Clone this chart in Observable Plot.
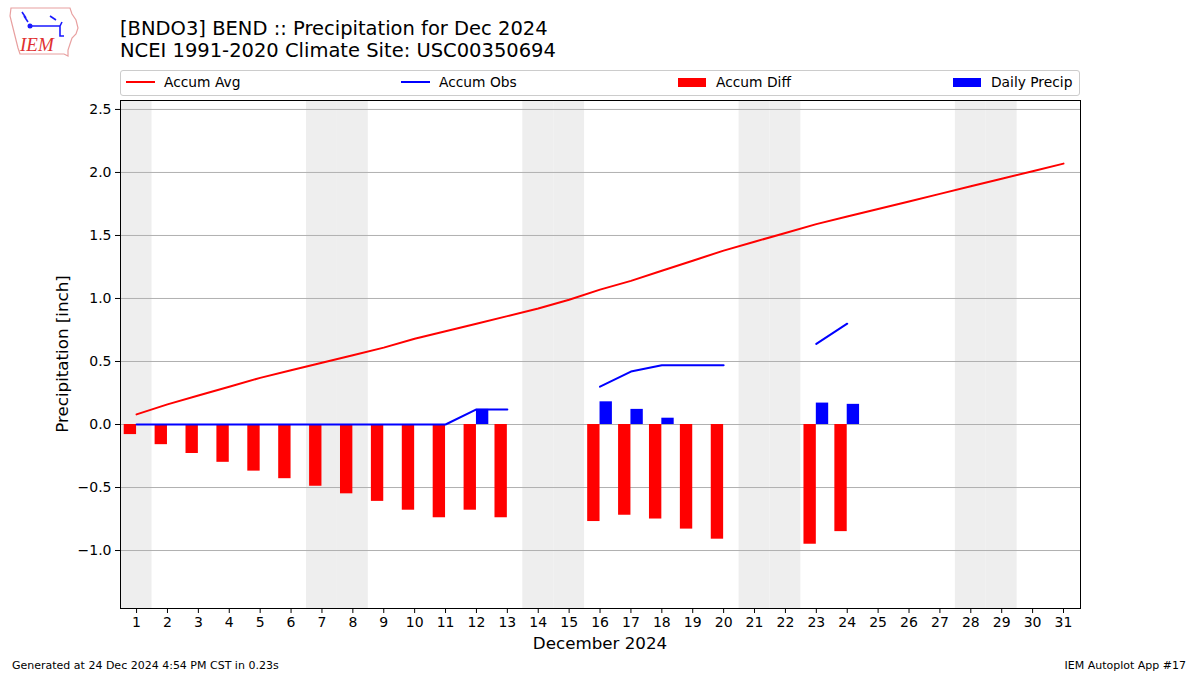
<!DOCTYPE html>
<html>
<head>
<meta charset="utf-8">
<script src="https://cdn.jsdelivr.net/npm/d3@7"></script>
<script src="https://cdn.jsdelivr.net/npm/@observablehq/plot@0.6"></script>
<style>
  html, body { margin: 0; padding: 0; background: #fff; }
  #wrap { position: relative; width: 1200px; height: 675px; font-family: "DejaVu Sans", sans-serif; color: #000; overflow: hidden; }
  #wrap svg.plot { position: absolute; left: 0; top: 0; }
  .abs { position: absolute; white-space: nowrap; }
  .title { left: 120px; font-size: 19.5px; line-height: 22px; }
  .legend { position: absolute; left: 120px; top: 70px; width: 958px; height: 24px; border: 1px solid #cccccc; border-radius: 3px; background: #fff; font-size: 13.8px; }
  .legend .item { position: absolute; top: -1px; height: 24px; display: flex; align-items: center; }
  .legend .ln { width: 29px; height: 2px; margin-right: 9px; }
  .legend .pt { width: 28px; height: 9px; margin-right: 10px; }
  .foot { font-size: 11px; top: 659px; }
</style>
</head>
<body>
<div id="wrap">
  <svg class="abs" style="left:6px;top:4px" width="76" height="56" viewBox="0 0 76 56">
    <path d="M5,4 L64,4 L66,10 L70,16 L72,24 L70,30 L66,34 L64,40 L62,46 L62,52 L58,50 L14,50 L12,44 L10,36 L8,28 L6,20 L4,12 Z" fill="none" stroke="#e8a0a0" stroke-width="1.2"/>
    <path d="M16,8 L20,14 M18,12 L22,18 M24,22 L54,22 L56,18 M44,12 L50,16 M54,22 L54,32 L58,32" stroke="#1a1aff" stroke-width="1.6" fill="none"/>
    <circle cx="24" cy="22" r="2.5" fill="#1a1aff"/>
    <text x="14" y="47" font-family="Liberation Serif" font-style="italic" font-size="19" fill="#e03030">IEM</text>
  </svg>
  <div class="abs title" style="top:18px">[BNDO3] BEND :: Precipitation for Dec 2024</div>
  <div class="abs title" style="top:40px">NCEI 1991-2020 Climate Site: USC00350694</div>
  <div class="legend">
    <div class="item" style="left:5px"><div class="ln" style="background:#ff0000"></div>Accum Avg</div>
    <div class="item" style="left:280px"><div class="ln" style="background:#0000ff"></div>Accum Obs</div>
    <div class="item" style="left:557px"><div class="pt" style="background:#ff0000"></div>Accum Diff</div>
    <div class="item" style="left:832px"><div class="pt" style="background:#0000ff"></div>Daily Precip</div>
  </div>
  <div id="chart"></div>
  <div class="abs" style="left:0;width:1200px;top:633px;text-align:center;font-size:16.7px;">December 2024</div>
  <div class="abs" style="left:62px;top:354px;font-size:16.7px;transform:translate(-50%,-50%) rotate(-90deg);">Precipitation [inch]</div>
  <div class="abs foot" style="left:12px">Generated at 24 Dec 2024 4:54 PM CST in 0.23s</div>
  <div class="abs foot" style="right:14px">IEM Autoplot App #17</div>
</div>
<script>
const days = [1,2,3,4,5,6,7,8,9,10,11,12,13,14,15,16,17,18,19,20,21,22,23,24,25,26,27,28,29,30,31];
const accumAvg = [0.08,0.16,0.23,0.30,0.37,0.43,0.49,0.55,0.61,0.68,0.74,0.80,0.86,0.92,0.99,1.07,1.14,1.22,1.30,1.38,1.45,1.52,1.59,1.65,1.71,1.77,1.83,1.89,1.95,2.01,2.07];
const accumObs = [0,0,0,0,0,0,0,0,0,0,0,0.12,0.12,null,null,0.30,0.42,0.47,0.47,0.47,null,null,0.64,0.80,null,null,null,null,null,null,null];
const accumDiff = [-0.08,-0.16,-0.23,-0.30,-0.37,-0.43,-0.49,-0.55,-0.61,-0.68,-0.74,-0.68,-0.74,null,null,-0.77,-0.72,-0.75,-0.83,-0.91,null,null,-0.95,-0.85,null,null,null,null,null,null,null];
const dailyPrecip = [0,0,0,0,0,0,0,0,0,0,0,0.12,0,null,null,0.18,0.12,0.05,0,0,null,null,0.17,0.16,null,null,null,null,null,null,null];
const weekendDays = [1,7,8,14,15,21,22,28,29];
const yTicks = [-1.0,-0.5,0.0,0.5,1.0,1.5,2.0,2.5];

const rows = days.map((d, i) => ({day: d, avg: accumAvg[i], obs: accumObs[i], diff: accumDiff[i], precip: dailyPrecip[i]}));
const barRows = rows.filter(r => r.diff != null);

const plot = Plot.plot({
  width: 1200,
  height: 675,
  marginLeft: 120,
  marginRight: 120,
  marginTop: 100,
  marginBottom: 67,
  style: {fontFamily: "DejaVu Sans", fontSize: "14px", color: "#000", background: "transparent"},
  x: {domain: [0.48, 31.55], ticks: days, tickFormat: d => String(d), tickSize: 5, tickPadding: 4, label: null},
  y: {domain: [-1.46, 2.571], ticks: yTicks, tickFormat: d3.format(".1f"), tickSize: 5, tickPadding: 4, label: null},
  marks: [
    Plot.rect(weekendDays, {x1: d => d - 0.5, x2: d => d + 0.5, y1: -1.46, y2: 2.571, fill: "#eeeeee"}),
    Plot.ruleY(yTicks, {stroke: "#b0b0b0", strokeWidth: 1}),
    Plot.rect(barRows, {x1: d => d.day - 0.4, x2: d => d.day, y1: 0, y2: "diff", fill: "#ff0000"}),
    Plot.rect(barRows.filter(r => r.precip > 0), {x1: "day", x2: d => d.day + 0.4, y1: 0, y2: "precip", fill: "#0000ff"}),
    Plot.line(rows, {x: "day", y: "avg", stroke: "#ff0000", strokeWidth: 2}),
    Plot.line(rows, {x: "day", y: "obs", stroke: "#0000ff", strokeWidth: 2}),
    Plot.frame({stroke: "#000", strokeWidth: 1})
  ]
});
plot.classList.add("plot");
plot.style.position = "absolute";
plot.style.left = "0px";
plot.style.top = "0px";
document.getElementById("chart").appendChild(plot);
</script>
</body>
</html>
